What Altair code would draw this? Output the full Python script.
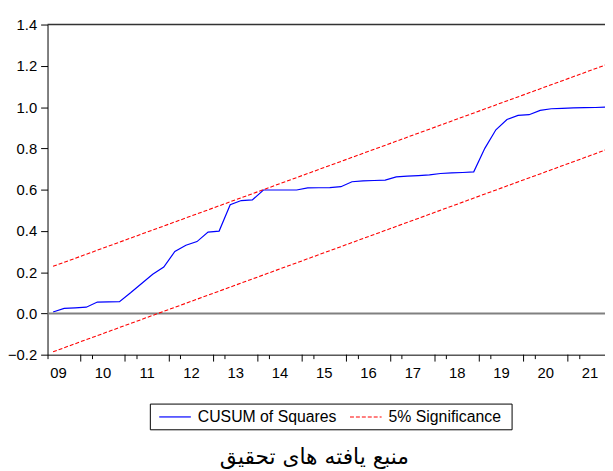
import altair as alt
import pandas as pd

# ---- data ----
first_period = "2009Q2"
last_period = "2021Q4"
cusum_sq = [0.007, 0.024, 0.027, 0.030, 0.055, 0.056, 0.057, 0.100, 0.145, 0.190,
            0.225, 0.300, 0.330, 0.348, 0.394, 0.399, 0.527, 0.547, 0.550, 0.598,
            0.598, 0.598, 0.598, 0.608, 0.609, 0.610, 0.614, 0.638, 0.642, 0.644,
            0.646, 0.662, 0.665, 0.668, 0.671, 0.678, 0.681, 0.683, 0.686, 0.800,
            0.890, 0.940, 0.960, 0.963, 0.984, 0.992, 0.994, 0.996, 0.997, 0.998, 1.000]
upper_ends = [0.228, 1.206]
lower_ends = [-0.186, 0.794]
years = list(range(2009, 2022))
year_labels = ["09", "10", "11", "12", "13", "14", "15", "16", "17", "18", "19", "20", "21"]
y_ticks = [-0.2, 0.0, 0.2, 0.4, 0.6, 0.8, 1.0, 1.2, 1.4]
series_names = ["CUSUM of Squares", "5% Significance"]
caption = "منبع یافته های تحقیق"

periods = pd.period_range(first_period, last_period, freq="Q")
t = [p.year + (p.quarter - 0.5) / 4 for p in periods]

blue_df = pd.DataFrame({"t": t, "v": cusum_sq})
bound_df = pd.DataFrame({
    "t": [t[0], t[-1], t[0], t[-1]],
    "v": upper_ends + lower_ends,
    "grp": ["upper", "upper", "lower", "lower"],
})

x_min = 2009.25
x_max = 2021.839
quarter_bounds = [y + q / 4 for y in years for q in range(4) if x_min <= y + q / 4 <= x_max]
major_df = pd.DataFrame({"t": [y for y in years if y > x_min]})
label_df = pd.DataFrame({"t": [y + 0.5 for y in years], "lab": year_labels})

W, H = 564, 334

x_scale = alt.Scale(domain=[x_min, x_max], nice=False, zero=False)
y_scale = alt.Scale(domain=[-0.2, 1.4], nice=False, zero=False)

x_axis = alt.Axis(
    values=quarter_bounds, tickSize=4, tickColor="black", domainColor="black",
    labels=False, grid=False, title=None,
)
y_axis = alt.Axis(
    values=y_ticks, format=".1f", tickSize=7, tickColor="black", domainColor="black",
    labelPadding=4, grid=False, title=None, labelFontSize=15, labelColor="black",
    labelFont="Liberation Sans",
)

blue = alt.Chart(blue_df).mark_line(color="#0000FF", strokeWidth=1.2, clip=True).encode(
    x=alt.X("t:Q", scale=x_scale, axis=x_axis),
    y=alt.Y("v:Q", scale=y_scale, axis=y_axis),
)

bounds = alt.Chart(bound_df).mark_line(color="#FF0000", strokeWidth=1.1, strokeDash=[4, 2], clip=True).encode(
    x=alt.X("t:Q", scale=x_scale),
    y=alt.Y("v:Q", scale=y_scale),
    detail="grp:N",
)

one = pd.DataFrame({"a": [0]})
zero_line = alt.Chart(one).mark_rule(color="#808080", strokeWidth=2).encode(
    y=alt.datum(0, scale=y_scale)
)

top_border = alt.Chart(one).mark_rule(color="#333333", strokeWidth=1.5).encode(
    x=alt.value(0), x2=alt.value(W), y=alt.value(0)
)

major_ticks = alt.Chart(major_df).mark_rule(color="black", strokeWidth=1).encode(
    x=alt.X("t:Q", scale=x_scale), y=alt.value(H), y2=alt.value(H + 7)
)

x_labels = alt.Chart(label_df).mark_text(
    align="center", baseline="alphabetic", fontSize=15, font="Liberation Sans", color="black"
).encode(
    x=alt.X("t:Q", scale=x_scale), y=alt.value(H + 24), text="lab:N"
)

# legend box
leg_box = alt.Chart(one).mark_rect(fill="white", stroke="black", strokeWidth=1).encode(
    x=alt.value(104), x2=alt.value(470), y=alt.value(384), y2=alt.value(410)
)
leg_blue = alt.Chart(one).mark_rule(color="#0000FF", strokeWidth=1.2).encode(
    x=alt.value(113), x2=alt.value(145), y=alt.value(397)
)
leg_red = alt.Chart(one).mark_rule(color="#FF0000", strokeWidth=1.1, strokeDash=[4, 2]).encode(
    x=alt.value(306), x2=alt.value(338), y=alt.value(397)
)
leg_t1 = alt.Chart(one).mark_text(align="left", baseline="alphabetic", fontSize=16,
                                  font="Liberation Sans", color="black").encode(
    x=alt.value(152), y=alt.value(402), text=alt.value(series_names[0])
)
leg_t2 = alt.Chart(one).mark_text(align="left", baseline="alphabetic", fontSize=16,
                                  font="Liberation Sans", color="black").encode(
    x=alt.value(345), y=alt.value(402), text=alt.value(series_names[1])
)
cap = alt.Chart(one).mark_text(align="center", baseline="alphabetic", fontSize=22,
                               font="DejaVu Serif, DejaVu Sans", color="black").encode(
    x=alt.value(270), y=alt.value(445), text=alt.value(caption)
)

chart = alt.layer(
    blue, zero_line, bounds, top_border, major_ticks, x_labels,
    leg_box, leg_blue, leg_red, leg_t1, leg_t2, cap
).properties(
    width=W, height=H,
    autosize=alt.AutoSizeParams(type="none"),
    padding={"left": 40, "top": 14, "right": 0, "bottom": 118},
).configure_view(stroke=None)

chart.save("out.html", embed_options={"renderer": "svg", "actions": False})
